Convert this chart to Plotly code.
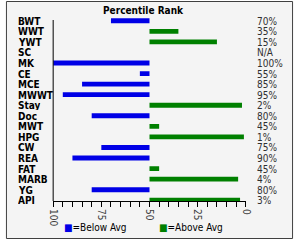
import plotly.graph_objects as go

categories = ["BWT", "WWT", "YWT", "SC", "MK", "CE", "MCE", "MWWT", "Stay", "Doc",
              "MWT", "HPG", "CW", "REA", "FAT", "MARB", "YG", "API"]
percentiles = [70, 35, 15, None, 100, 55, 85, 95, 2, 80, 45, 1, 75, 90, 45, 4, 80, 3]
rank_labels = ["70%", "35%", "15%", "N/A", "100%", "55%", "85%", "95%", "2%", "80%",
               "45%", "1%", "75%", "90%", "45%", "4%", "80%", "3%"]
x_ticks = [100, 75, 50, 25, 0]
midpoint = 50
title_text = "Percentile Rank"
below_name = "=Below Avg"
above_name = "=Above Avg"

BLUE = "#0000E6"
GREEN = "#008000"
FONT = "DejaVu Sans Condensed, DejaVu Sans, sans-serif"

below_y, below_x = [], []
above_y, above_x = [], []
for c, p in zip(categories, percentiles):
    if p is None:
        continue
    if p > midpoint:
        below_y.append(c); below_x.append(p - midpoint)
    elif p < midpoint:
        above_y.append(c); above_x.append(p - midpoint)

fig = go.Figure()
fig.add_trace(go.Bar(y=below_y, x=below_x, base=midpoint, orientation="h",
                     marker=dict(color=BLUE, line=dict(width=0)), width=0.46,
                     name=below_name, showlegend=False))
fig.add_trace(go.Bar(y=above_y, x=above_x, base=midpoint, orientation="h",
                     marker=dict(color=GREEN, line=dict(width=0)), width=0.46,
                     name=above_name, showlegend=False))

n = len(categories)
W, H = 300, 240
fig.update_layout(
    width=W, height=H, margin=dict(l=0, r=0, t=0, b=0),
    paper_bgcolor="white", plot_bgcolor="rgba(0,0,0,0)",
    barmode="overlay", showlegend=False,
    font=dict(family=FONT, size=10, color="#000"),
    xaxis=dict(range=[100, 0], domain=[50 / W, 250 / W], tickvals=x_ticks,
               ticks="outside", ticklen=5, tickcolor="#000", showline=True,
               linecolor="#000", linewidth=1, showgrid=False, zeroline=False,
               tickangle=90, tickfont=dict(size=10, color="#404040", family=FONT),
               minor=dict(dtick=5, ticks="outside", ticklen=5, tickcolor="#000", showgrid=False)),
    yaxis=dict(type="category", categoryorder="array", categoryarray=categories,
               range=[n + 0.07 - 1, -0.5], domain=[(H - 201) / H, (H - 15.5) / H],
               showticklabels=False, ticks="", showline=False, showgrid=False,
               zeroline=False),
)

# frame and background
fig.add_shape(type="rect", xref="paper", yref="paper", x0=1.5 / W, x1=298.5 / W,
              y0=1 - 238.5 / H, y1=1 - 1.5 / H, line=dict(color="#404040", width=1),
              fillcolor="#F4F4F4", layer="below")
# vertical axis line
fig.add_shape(type="line", xref="paper", yref="paper", x0=50 / W, x1=50 / W,
              y0=(H - 201) / H, y1=(H - 20) / H, line=dict(color="#000", width=1))

for c, t in zip(categories, rank_labels):
    fig.add_annotation(xref="paper", yref="y", x=12 / W, y=c, text="<b>" + c + "</b>",
                       showarrow=False, xanchor="left", yanchor="middle", height=10,
                       borderpad=0, font=dict(family=FONT, size=10, color="#000"))
    fig.add_annotation(xref="paper", yref="y", x=261 / W, y=c, text=t,
                       showarrow=False, xanchor="left", yanchor="middle", height=10,
                       borderpad=0, font=dict(family=FONT, size=10, color="#303030"))

fig.add_annotation(xref="paper", yref="paper", x=144 / W, y=1 - 11 / H,
                   text="<b>" + title_text + "</b>", showarrow=False,
                   xanchor="center", yanchor="middle",
                   font=dict(family=FONT, size=10, color="#000"))
fig.add_annotation(xref="paper", yref="paper", x=59 / W, y=1 - 227 / H,
                   text="<span style='color:%s'>■</span>%s" % (BLUE, below_name),
                   showarrow=False, xanchor="left", yanchor="middle",
                   font=dict(family=FONT, size=10, color="#000"))
fig.add_annotation(xref="paper", yref="paper", x=158 / W, y=1 - 227 / H,
                   text="<span style='color:%s'>■</span>%s" % (GREEN, above_name),
                   showarrow=False, xanchor="left", yanchor="middle",
                   font=dict(family=FONT, size=10, color="#000"))

fig.write_html("out.html")
